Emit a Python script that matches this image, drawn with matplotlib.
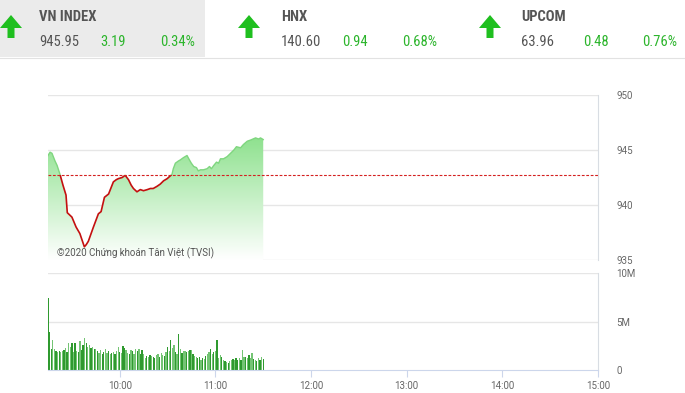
import matplotlib
matplotlib.use("Agg")
import matplotlib.pyplot as plt
import numpy as np
from matplotlib import font_manager
from matplotlib.colors import LinearSegmentedColormap
from matplotlib.patches import Rectangle, Polygon

# ---- data -------------------------------------------------------------
INDEX_NAMES = ["VN INDEX", "HNX", "UPCOM"]
INDEX_VALUES = ["945.95", "140.60", "63.96"]
INDEX_CHANGES = ["3.19", "0.94", "0.48"]
INDEX_PCTS = ["0.34%", "0.68%", "0.76%"]

REF_PRICE = 942.76  # 945.95 - 3.19

# minutes after 09:15
PRICE_MIN = [0, 1.3, 2.5, 4.4, 5.7, 7.5, 9.4, 11.3, 12.1, 15, 17.6, 20, 22.8, 24,
             25.3, 28.5, 31.6, 33.3, 35.4, 38, 41, 42.8, 44.2, 46.5, 48.4, 50.5,
             52.2, 53.6, 55.8, 57.9, 59.9, 62.3, 64.2, 66, 68.4, 70.4, 72.5, 74.8,
             77.8, 78.6, 79.9, 81.8, 83, 84.9, 87.2, 88.7, 89.9, 91.4, 93.1, 94.3,
             95.6, 97.5, 99.8, 101.3, 102.5, 104, 105.7, 107, 108.2, 110.1, 112.4,
             114.5, 116.6, 118.2, 120.8, 122.6, 125, 127, 130.2, 132.1, 133.3, 135]
PRICE = [944.5, 944.8, 944.7, 944.0, 943.6, 942.8, 941.8, 940.9, 939.3, 938.9,
         938.0, 937.4, 936.2, 936.4, 936.7, 938.0, 939.2, 939.4, 940.7, 941.0,
         942.1, 942.3, 942.4, 942.5, 942.7, 942.3, 941.8, 941.5, 941.2, 941.4,
         941.3, 941.4, 941.5, 941.5, 941.7, 941.9, 942.2, 942.4, 942.8, 943.3,
         943.8, 944.0, 944.1, 944.3, 944.5, 944.1, 943.8, 943.5, 943.4, 943.1,
         943.2, 943.2, 943.3, 943.5, 943.3, 943.6, 943.9, 943.8, 944.2, 944.2,
         944.4, 944.7, 945.0, 945.3, 945.2, 945.5, 945.8, 945.9, 946.1, 946.0,
         946.1, 945.95]

# volume per minute (millions), 09:15 .. 11:30
VOLUME_M = [7.4, 3.9, 2.2, 3.1, 2.2, 2.0, 1.9, 2.0, 1.9, 2.0,
            2.1, 2.3, 1.9, 2.75, 2.4, 2.8, 1.9, 2.8, 2.0, 1.9,
            3.0, 2.1, 2.6, 3.3, 2.8, 2.4, 2.6, 2.3, 2.4, 2.2,
            2.2, 2.0, 1.8, 2.1, 1.6, 1.9, 2.2, 1.8, 2.0, 1.7,
            1.75, 1.9, 1.6, 2.0, 2.4, 1.9, 1.75, 2.5, 2.3, 2.1,
            1.8, 1.65, 2.1, 2.0, 1.6, 2.2, 2.0, 2.2, 1.6, 2.1,
            1.7, 1.2, 1.4, 1.3, 1.5, 1.4, 1.3, 1.2, 1.5, 1.6,
            1.3, 1.75, 1.5, 1.4, 1.9, 2.4, 2.0, 3.1, 2.3, 2.6,
            1.9, 1.7, 3.7, 2.2, 1.75, 2.0, 2.0, 1.9, 2.0, 2.1,
            2.1, 1.7, 1.4, 1.3, 1.2, 1.3, 1.05, 1.2, 1.15, 1.4,
            1.6, 1.9, 2.2, 1.6, 1.9, 2.0, 3.1, 1.2, 1.5, 1.3,
            1.0, 0.9, 0.8, 0.7, 0.9, 1.0, 1.1, 1.05, 1.2, 1.0,
            1.2, 1.05, 2.1, 1.3, 1.3, 1.2, 1.5, 1.2, 1.8, 1.1,
            1.05, 0.9, 1.2, 1.05, 1.3, 1.1]
# d = darker bar, l = lighter bar
VOLUME_SHADE = ("dddlldldlldldlldldld"
                "lddldlldldldllddlldl"
                "dldlldlddlldldlldldd"
                "lldldlddlldlldldldll"
                "dldldlldldldllddldld"
                "lldldldlldldldlldldd"
                "ldlldldlldldldld")

PRICE_TICKS = [935, 940, 945, 950]
VOL_TICKS = [0, 5, 10]
VOL_TICK_LABELS = ["0", "5M", "10M"]
HOUR_TICKS = [10, 11, 12, 13, 14, 15]

# ---- style ------------------------------------------------------------
avail = {f.name for f in font_manager.fontManager.ttflist}
NARROW, NARROW_SIZE = "Roboto", 9.0
for cand in ["Roboto Condensed", "Noto Sans Condensed", "Liberation Sans Narrow",
             "Noto Sans SemiCondensed", "DejaVu Sans Condensed"]:
    if cand in avail:
        NARROW, NARROW_SIZE = cand, 10.5
        break
plt.rcParams["font.family"] = ["Roboto", "DejaVu Sans"]

GREEN = "#2cb52c"
GREY_TXT = "#555555"
GRID = "#e6e6e6"

W, H = 685, 393
fig = plt.figure(figsize=(W / 100, H / 100), dpi=100)


def fx(px):
    return px / W


def fy(py):
    return 1 - py / H


# ---- header -----------------------------------------------------------
hdr = fig.add_axes([0, 0, 1, 1], zorder=-1)
hdr.set_xlim(0, W); hdr.set_ylim(H, 0); hdr.axis("off")
hdr.add_patch(Rectangle((0, 0), 205, 57, color="#ebebeb", lw=0))
hdr.plot([0, W], [58, 58], color="#e2e2e2", lw=0.8)

arrow_x = [11, 249, 490]
text_x = [39, 281, 521]
chg_x = [100, 342, 583]
pct_x = [195, 437, 677]
for i in range(3):
    cx = arrow_x[i]
    pts = [(cx - 11, 28), (cx, 15), (cx + 11, 28), (cx + 3.5, 28), (cx + 3.5, 38),
           (cx - 3.5, 38), (cx - 3.5, 28)]
    hdr.add_patch(Polygon(pts, closed=True, color="#1fbf1f", lw=0))
    hdr.text(text_x[i], 17, INDEX_NAMES[i], family=NARROW, fontsize=NARROW_SIZE,
             fontweight="bold", color=GREY_TXT, va="center", ha="left")
    hdr.text(text_x[i], 42, INDEX_VALUES[i], family=NARROW, fontsize=NARROW_SIZE,
             color=GREY_TXT, va="center", ha="left")
    hdr.text(chg_x[i], 42, INDEX_CHANGES[i], family=NARROW, fontsize=NARROW_SIZE,
             color=GREEN, va="center", ha="left")
    hdr.text(pct_x[i], 42, INDEX_PCTS[i], family=NARROW, fontsize=NARROW_SIZE,
             color=GREEN, va="center", ha="right")

# ---- price panel ------------------------------------------------------
X0, X1 = 9.25, 15.0
t = 9.25 + np.array(PRICE_MIN) / 60.0
p = np.array(PRICE)

ax = fig.add_axes([fx(48), fy(260), fx(598) - fx(48), fy(95) - fy(260)])
ax.set_xlim(X0, X1); ax.set_ylim(935, 950)
for s in ["top", "left", "bottom"]:
    ax.spines[s].set_visible(False)
ax.spines["right"].set_color("#d8dde3")
ax.set_xticks([])
ax.set_yticks(PRICE_TICKS)
ax.yaxis.tick_right()
ax.tick_params(axis="y", length=0, pad=13, labelsize=7, labelcolor="#666666")
for v in PRICE_TICKS:
    ax.axhline(v, color=GRID, lw=1, zorder=0)

cmap = LinearSegmentedColormap.from_list("g", ["#ffffff", "#86df86"])
grad = np.linspace(0, 1, 256).reshape(-1, 1)
im = ax.imshow(grad, extent=[X0, X1, 935, 947], origin="lower", aspect="auto",
               cmap=cmap, zorder=1)
poly = ax.fill_between(t, p, 935, color="none", lw=0)
im.set_clip_path(poly.get_paths()[0], transform=ax.transData)

below = Rectangle((X0, 930), X1 - X0, REF_PRICE - 930, transform=ax.transData)
above = Rectangle((X0, REF_PRICE), X1 - X0, 960 - REF_PRICE, transform=ax.transData)
l_red, = ax.plot(t, p, color="#c41010", lw=1.2, zorder=3)
l_red.set_clip_path(below)
l_grn, = ax.plot(t, p, color="#7fd67f", lw=1.0, zorder=3)
l_grn.set_clip_path(above)
ax.axhline(REF_PRICE, color="#d42020", lw=0.8, ls=(0, (2.5, 1.5)), zorder=4)

ax.text(9 / (598 - 48), 0.04, "©2020 Chứng khoán Tân Việt (TVSI)",
        transform=ax.transAxes, fontsize=7, color=GREY_TXT, va="center",
        ha="left", zorder=5)

# ---- volume panel -----------------------------------------------------
vx = 9.25 + np.arange(len(VOLUME_M)) / 60.0
colors = ["#2f9a2f" if c == "d" else "#74c474" for c in VOLUME_SHADE[:len(VOLUME_M)]]

axv = fig.add_axes([fx(48), fy(370), fx(598) - fx(48), fy(273) - fy(370)])
axv.set_xlim(X0, X1); axv.set_ylim(0, 10)
for s in ["top", "left"]:
    axv.spines[s].set_visible(False)
axv.spines["right"].set_color("#d8dde3")
axv.spines["bottom"].set_color("#ccd6eb")
axv.bar(vx, VOLUME_M, width=0.8 / 60, color=colors, lw=0, zorder=2,
        antialiased=False)
for v in VOL_TICKS[1:]:
    axv.axhline(v, color=GRID, lw=1, zorder=0)
axv.set_yticks(VOL_TICKS)
axv.set_yticklabels(VOL_TICK_LABELS)
axv.yaxis.tick_right()
axv.tick_params(axis="y", length=0, pad=13, labelsize=7, labelcolor="#666666")
axv.set_xticks(HOUR_TICKS)
axv.set_xticklabels([f"{h}:00" for h in HOUR_TICKS])
axv.tick_params(axis="x", length=5, color="#ccd6eb", pad=3, labelsize=7,
                labelcolor="#666666")

fig.savefig("out.png", dpi=100)
